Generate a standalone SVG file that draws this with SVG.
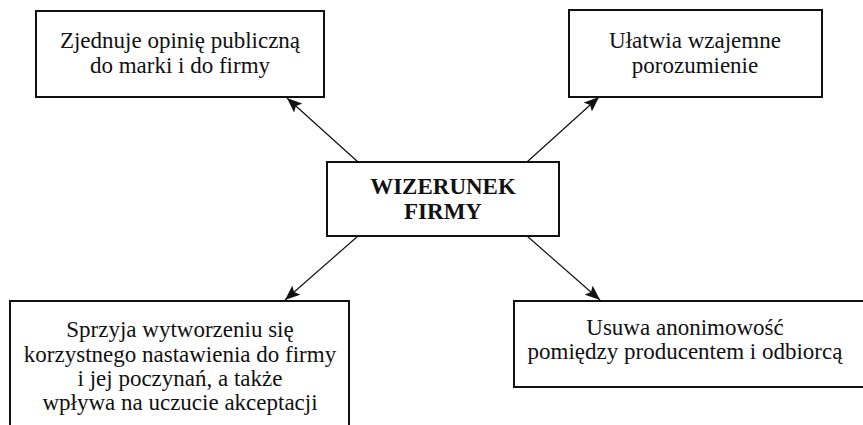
<svg xmlns="http://www.w3.org/2000/svg" width="863" height="425" viewBox="0 0 863 425">
<style>
.box{fill:#fff;stroke:#111;stroke-width:2}
.t{font-family:'Liberation Serif','DejaVu Serif',serif;font-size:23px;fill:#111;text-anchor:middle}
.b{font-weight:bold}
.c{stroke:#111;stroke-width:1.2;fill:none;marker-end:url(#ah)}
</style>
<defs>
<marker id="ah" markerUnits="userSpaceOnUse" markerWidth="16" markerHeight="12" refX="15" refY="6" orient="auto">
<path d="M0,0 L15,6 L0,12 L3,6 Z" fill="#111"/>
</marker>
</defs>
<rect width="863" height="425" fill="#fff"/>
<g id="connectors">
<line class="c" x1="358" y1="162" x2="287" y2="98"/>
<line class="c" x1="527" y1="162" x2="599" y2="97"/>
<line class="c" x1="358" y1="236" x2="285" y2="300"/>
<line class="c" x1="527" y1="236" x2="600" y2="300"/>
</g>
<g id="node-center">
<rect class="box" x="327" y="162" width="232" height="74"/>
<text class="t b" x="443" y="194">WIZERUNEK</text>
<text class="t b" x="443" y="219">FIRMY</text>
</g>
<g id="node-top-left">
<rect class="box" x="36" y="11" width="288" height="86"/>
<text class="t" x="180" y="48">Zjednuje opinię publiczną</text>
<text class="t" x="180" y="73">do marki i do firmy</text>
</g>
<g id="node-top-right">
<rect class="box" x="569" y="10" width="253" height="87"/>
<text class="t" x="695" y="48">Ułatwia wzajemne</text>
<text class="t" x="695" y="73">porozumienie</text>
</g>
<g id="node-bottom-left">
<path class="box" d="M10,430 L10,301 L349,301 L349,430"/>
<text class="t" x="180" y="337">Sprzyja wytworzeniu się</text>
<text class="t" x="180" y="362">korzystnego nastawienia do firmy</text>
<text class="t" x="180" y="386">i jej poczynań, a także</text>
<text class="t" x="180" y="410">wpływa na uczucie akceptacji</text>
</g>
<g id="node-bottom-right">
<rect class="box" x="514" y="301" width="360" height="86"/>
<text class="t" x="685" y="335">Usuwa anonimowość</text>
<text class="t" x="685" y="359">pomiędzy producentem i odbiorcą</text>
</g>
</svg>
